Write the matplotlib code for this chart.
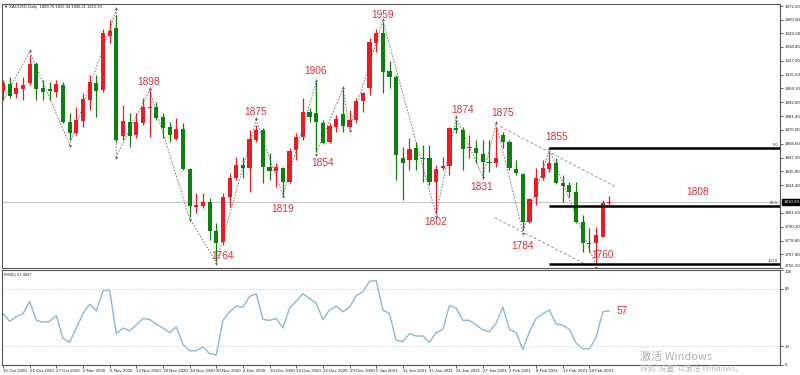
import matplotlib
matplotlib.use("Agg")
import matplotlib.pyplot as plt
import numpy as np

plt.rcParams['font.family'] = ['Liberation Sans', 'DejaVu Sans']

# daily XAUUSD candles, 15 Oct 2020 .. 23 Feb 2021
opens = [1902.2, 1908.0, 1899.8, 1903.9, 1908.8, 1924.5, 1904.7, 1903.9, 1901.4, 1907.2,
         1876.7, 1867.7, 1877.5, 1894.8, 1908.8, 1903.1, 1947.5, 1954.1, 1865.2, 1876.7,
         1866.0, 1875.9, 1888.2, 1889.1, 1880.8, 1872.6, 1862.7, 1871.0, 1838.0, 1806.8,
         1807.6, 1810.9, 1787.0, 1778.0, 1815.0, 1830.6, 1841.3, 1838.9, 1861.9, 1870.1,
         1839.7, 1836.4, 1838.9, 1827.3, 1853.7, 1864.4, 1885.0, 1884.1, 1875.9, 1860.3,
         1872.6, 1883.3, 1872.6, 1878.4, 1894.0, 1904.7, 1941.7, 1950.0, 1918.7, 1913.8,
         1847.1, 1845.5, 1855.3, 1847.1, 1847.1, 1827.3, 1838.9, 1840.5, 1871.8, 1870.1,
         1855.3, 1855.3, 1850.4, 1843.8, 1843.0, 1866.0, 1860.3, 1838.0, 1833.9, 1794.4,
         1815.0, 1830.6, 1838.0, 1843.0, 1826.5, 1824.9, 1819.1, 1794.4, 1777.1, 1777.1,
         1782.1, 1809.76]
highs = [1911.3, 1913.8, 1909.6, 1913.8, 1931.9, 1926.1, 1911.3, 1909.6, 1911.3, 1909.6,
         1884.1, 1889.1, 1900.6, 1915.4, 1915.4, 1953.3, 1960.7, 1964.8, 1890.7, 1884.1,
         1884.1, 1896.5, 1903.1, 1893.2, 1884.1, 1876.7, 1880.0, 1875.9, 1838.9, 1818.3,
         1818.3, 1814.2, 1793.6, 1818.3, 1834.8, 1847.9, 1847.9, 1870.1, 1874.3, 1871.8,
         1851.2, 1843.0, 1839.7, 1855.3, 1867.7, 1896.5, 1888.2, 1909.6, 1878.4, 1875.9,
         1882.5, 1903.9, 1886.6, 1896.5, 1901.4, 1945.9, 1953.3, 1959.0, 1926.9, 1915.4,
         1856.1, 1863.6, 1860.3, 1857.8, 1857.8, 1841.3, 1847.9, 1872.6, 1878.4, 1872.6,
         1866.0, 1861.9, 1861.9, 1861.9, 1872.6, 1868.5, 1861.9, 1845.5, 1834.8, 1814.2,
         1838.9, 1845.5, 1852.0, 1847.1, 1833.1, 1827.3, 1827.3, 1800.2, 1789.5, 1790.3,
         1812.5, 1815.94]
lows = [1894.8, 1896.5, 1896.5, 1894.8, 1907.2, 1894.8, 1894.8, 1894.8, 1897.3, 1875.9,
        1861.9, 1866.0, 1872.6, 1886.6, 1880.8, 1901.4, 1941.7, 1860.3, 1861.9, 1856.1,
        1863.6, 1874.3, 1864.4, 1878.4, 1863.6, 1860.3, 1861.9, 1837.2, 1798.5, 1801.8,
        1805.9, 1779.6, 1761.5, 1775.5, 1806.8, 1829.0, 1830.6, 1819.1, 1860.3, 1826.5,
        1829.0, 1823.2, 1816.6, 1826.5, 1845.5, 1861.9, 1876.7, 1852.0, 1858.6, 1859.4,
        1868.5, 1868.5, 1871.8, 1875.9, 1885.0, 1898.9, 1934.3, 1900.6, 1904.7, 1829.0,
        1812.5, 1837.2, 1837.2, 1827.3, 1824.9, 1801.8, 1837.2, 1833.1, 1867.7, 1837.2,
        1847.1, 1843.0, 1831.5, 1835.6, 1839.7, 1855.3, 1837.2, 1833.1, 1787.8, 1793.6,
        1808.4, 1829.0, 1835.6, 1825.7, 1810.9, 1815.0, 1793.6, 1769.7, 1769.7, 1759.0,
        1782.1, 1806.21]
closes = [1908.8, 1898.1, 1904.7, 1907.2, 1924.5, 1903.9, 1901.4, 1902.2, 1908.0, 1876.7,
          1867.7, 1878.4, 1895.7, 1909.6, 1902.2, 1950.0, 1951.6, 1861.9, 1877.5, 1865.2,
          1876.7, 1889.1, 1889.1, 1880.0, 1871.8, 1866.0, 1871.0, 1838.0, 1807.6, 1808.4,
          1810.9, 1787.0, 1777.1, 1815.0, 1830.6, 1841.3, 1838.9, 1862.7, 1870.1, 1839.7,
          1836.4, 1839.7, 1827.3, 1852.9, 1864.4, 1885.0, 1880.8, 1876.7, 1859.4, 1873.4,
          1879.2, 1873.4, 1878.4, 1894.0, 1900.6, 1942.6, 1950.0, 1917.9, 1913.8, 1849.6,
          1843.0, 1854.5, 1845.5, 1846.3, 1827.3, 1838.0, 1840.5, 1871.8, 1870.1, 1854.5,
          1856.1, 1851.2, 1843.8, 1843.0, 1847.1, 1860.3, 1838.9, 1834.8, 1794.4, 1813.4,
          1830.6, 1838.9, 1843.0, 1826.5, 1824.1, 1819.1, 1794.4, 1777.1, 1776.3, 1783.7,
          1810.1, 1810.93]

rsi = [54, 46, 51, 54, 67, 47, 45, 46, 52, 28,
       24, 39, 54, 64, 57, 78, 79, 33, 39, 36,
       42, 49, 48, 43, 39, 34, 40, 22, 15, 15,
       19, 12, 10.5, 47, 56, 62, 61, 72, 75, 48,
       47, 49, 39, 60, 67, 75, 70, 65, 48, 58,
       62, 56, 61, 73, 77, 88, 89, 58, 54, 26,
       24.5, 33, 30.5, 30.5, 24, 34, 37.5, 62.5, 60, 47,
       47, 42, 37, 35, 44, 61, 37.5, 34, 16.5, 35,
       49, 54, 58, 43, 42, 37.5, 23, 17, 17, 29,
       56, 57]

date_labels = ['15 Oct 2020', '21 Oct 2020', '27 Oct 2020', '2 Nov 2020', '6 Nov 2020',
               '12 Nov 2020', '18 Nov 2020', '24 Nov 2020', '30 Nov 2020', '4 Dec 2020',
               '10 Dec 2020', '16 Dec 2020', '22 Dec 2020', '29 Dec 2020', '5 Jan 2021',
               '11 Jan 2021', '15 Jan 2021', '21 Jan 2021', '27 Jan 2021', '2 Feb 2021',
               '8 Feb 2021', '12 Feb 2021', '18 Feb 2021']
price_ticks = [1972.20, 1960.80, 1949.60, 1938.40, 1927.00, 1915.60, 1904.20, 1892.80,
               1881.40, 1870.00, 1858.60, 1847.20, 1835.80, 1824.40, 1801.60, 1790.20,
               1778.80, 1767.40, 1756.20]
rsi_ticks = [0, 20, 80, 100]

# zigzag swing points
zz_idx = [-0.2, 4, 10, 17, 17, 22, 28, 32, 38, 42, 47, 47, 51, 52, 57, 65, 68, 72, 74, 78, 82, 89]
zz_price = [1892, 1934.6, 1858, 1968.9, 1848.2, 1903, 1797, 1761, 1878, 1816, 1909.6, 1851,
            1904, 1871, 1960, 1800, 1880, 1832, 1875, 1786, 1854, 1758]

# analyst labels
lbl_text = ['1898', '1875', '1764', '1819', '1906', '1854', '1959', '1874', '1802', '1831',
            '1875', '1784', '1855', '1760', '1808']
lbl_idx = [21.9, 37.9, 32.9, 41.9, 46.9, 47.9, 56.9, 68.9, 64.9, 71.9, 74.9, 77.9, 83.0, 90.0, 104.3]
lbl_price = [1909.9, 1885.0, 1765.9, 1805.1, 1918.7, 1842.7, 1964.8, 1886.6, 1793.8, 1823.0,
             1883.9, 1774.1, 1864.1, 1766.7, 1819.1]

fib_levels = [1855.3, 1807.6, 1759.9]
fib_names = ['0.0', '50.0', '100.0']
fib_start = 81.9

chan_up = ([74.6, 91.8], [1872.9, 1823.5])
chan_dn = ([73.8, 88.1], [1797.7, 1757.4])

last_price = 1810.93

UP = '#e81c24'
DN = '#0e800e'
LBL = '#d8333c'

fig = plt.figure(figsize=(8, 3.75), dpi=100)
W, H = 800.0, 375.0
ax = fig.add_axes([2 / W, 1 - 268 / H, 778 / W, 264 / H])
ax2 = fig.add_axes([2 / W, 1 - 365 / H, 778 / W, 95 / H], sharex=ax)

x = np.arange(len(opens))
o = np.array(opens)
c = np.array(closes)
cols = [UP if cc >= oo else DN for oo, cc in zip(o, c)]

ax.vlines(x, lows, highs, colors=cols, lw=0.9, zorder=3)
body_lo = np.minimum(o, c)
body_h = np.maximum(np.abs(c - o), 0.9)
ax.bar(x, body_h, bottom=body_lo, width=0.62, color=cols, zorder=4, linewidth=0)

ax.axhline(last_price, color='#c8c8c8', lw=0.8, zorder=1)

# zigzag with small swing arrows
ax.plot(zz_idx, zz_price, color='#7a7a7a', lw=0.7, ls=(0, (1.6, 1.6)), zorder=2)
for i in range(1, len(zz_idx)):
    up = zz_price[i] > zz_price[i - 1]
    ax.plot(zz_idx[i], zz_price[i] + (1.5 if up else -1.5), marker='^' if up else 'v',
            ms=2.2, color='#6a6a6a', mew=0, zorder=2)
ax.plot(chan_up[0], chan_up[1], color='#9a9a9a', lw=0.7, ls=(0, (3, 2)), zorder=2)
ax.plot(chan_dn[0], chan_dn[1], color='#9a9a9a', lw=0.7, ls=(0, (3, 2)), zorder=2)

for lev, nm in zip(fib_levels, fib_names):
    ax.hlines(lev, fib_start, 116.6, color='black', lw=1.8, zorder=5)
    ax.text(116.3, lev + 0.6, nm, fontsize=3, ha='right', va='bottom', color='#333333')

for t, xi, yi in zip(lbl_text, lbl_idx, lbl_price):
    ax.text(xi, yi, t, color=LBL, fontsize=7.3, ha='center', va='center', zorder=6)

ax.set_xlim(-0.15, 116.6)
ax.set_ylim(1756.2, 1973.85)
ax.yaxis.tick_right()
ax.set_yticks(price_ticks)
ax.set_yticklabels(['%.2f' % v for v in price_ticks])
ax.tick_params(axis='y', labelsize=3.2, length=2, width=0.5, pad=1.5, colors='#222222')
ax.get_yticklabels()[-1].set_va('bottom')
ax.tick_params(axis='x', bottom=False, labelbottom=False)
ax.annotate('%.2f' % last_price, xy=(1.0, last_price), xycoords=('axes fraction', 'data'),
            xytext=(2.5, 0), textcoords='offset points', fontsize=3.2, color='white',
            va='center', ha='left',
            bbox=dict(boxstyle='square,pad=0.25', fc='black', ec='black'))
ax.text(0.003, 0.995, '\u25bc XAUUSD,Daily  1809.76 1815.94 1806.21 1810.93',
        transform=ax.transAxes, fontsize=3, va='top', ha='left', color='#222222')

# RSI pane
ax2.plot(x, rsi, color='#8db8d2', lw=1.0)
ax2.axhline(80, color='#d0d0d0', lw=0.6, ls=(0, (2, 2)))
ax2.axhline(20, color='#d0d0d0', lw=0.6, ls=(0, (2, 2)))
ax2.text(92.9, 56.8, '57', color=LBL, fontsize=7.3, ha='center', va='center')
ax2.set_ylim(0, 100)
ax2.yaxis.tick_right()
ax2.set_yticks(rsi_ticks)
ax2.set_yticklabels([str(v) for v in rsi_ticks])
ax2.tick_params(axis='y', labelsize=3.2, length=2, width=0.5, pad=1.5, colors='#222222')
ax2.get_yticklabels()[-1].set_va('top')
ax2.set_xticks(np.arange(0, 4 * len(date_labels), 4))
ax2.set_xticklabels(date_labels, ha='left')
ax2.tick_params(axis='x', labelsize=3.2, length=2, width=0.5, pad=1, colors='#222222')
ax2.text(0.003, 0.97, 'RSI(5) 57.4587', transform=ax2.transAxes, fontsize=3,
         va='top', ha='left', color='#222222')

for a in (ax, ax2):
    for s in a.spines.values():
        s.set_color('#555555')
        s.set_linewidth(0.8)

fig.text(640 / W, 1 - 357 / H, '激活 Windows', fontsize=8, color='#b0b0b0',
         family=['Noto Sans CJK SC', 'DejaVu Sans'], va='center', ha='left')
fig.text(640 / W, 1 - 369 / H, '转到"设置"以激活 Windows。', fontsize=5.5, color='#b8b8b8',
         family=['Noto Sans CJK SC', 'DejaVu Sans'], va='center', ha='left')

fig.savefig('out.png', dpi=100, facecolor='white')
